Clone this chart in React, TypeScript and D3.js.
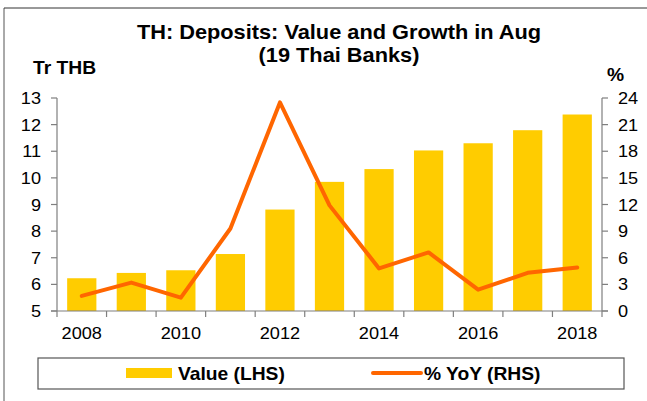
import React, { useRef, useEffect } from "react";
import * as d3 from "d3";

const years = ["2008", "2009", "2010", "2011", "2012", "2013", "2014", "2015", "2016", "2017", "2018"];
const depositValue = [6.23, 6.43, 6.53, 7.14, 8.81, 9.85, 10.33, 11.03, 11.3, 11.79, 12.38];
const yoyGrowth = [1.7, 3.2, 1.5, 9.3, 23.5, 11.9, 4.8, 6.6, 2.4, 4.3, 4.9];
const leftTicks = [5, 6, 7, 8, 9, 10, 11, 12, 13];
const rightTicks = [0, 3, 6, 9, 12, 15, 18, 21, 24];
const yearLabels = ["2008", "2010", "2012", "2014", "2016", "2018"];

const W = 647;
const H = 401;
const STRETCH = 1.1; // source image is a bit wide, stretch text to match

export default function App() {
  const ref = useRef<SVGSVGElement | null>(null);

  useEffect(() => {
    const m = { top: 98, right: 45, bottom: 90, left: 57 };
    const svg = d3.select(ref.current);
    svg.selectAll("*").remove();
    svg.attr("width", W).attr("height", H).style("background", "#fff");

    const font = "Liberation Sans, Arial, sans-serif";
    const axisColor = "#7f7f7f";

    const text = (x: number, y: number, s: string, size: number, bold = false, anchor = "start") =>
      svg
        .append("text")
        .attr("transform", `translate(${x},${y}) scale(${STRETCH},1)`)
        .attr("text-anchor", anchor)
        .attr("font-family", font)
        .attr("font-size", size)
        .attr("font-weight", bold ? "bold" : "normal")
        .attr("fill", "#000")
        .text(s);

    // outer frame (left + top edges visible)
    svg.append("line").attr("x1", 4).attr("x2", 4).attr("y1", 8).attr("y2", H).attr("stroke", "#555");
    svg.append("line").attr("x1", 4).attr("x2", W).attr("y1", 8).attr("y2", 8).attr("stroke", "#333");

    const x = d3
      .scaleBand()
      .domain(years)
      .range([m.left, W - m.right])
      .paddingInner(0.41)
      .paddingOuter(0.205);

    const yL = d3.scaleLinear().domain([5, 13]).range([H - m.bottom, m.top]);
    const yR = d3.scaleLinear().domain([0, 24]).range([H - m.bottom, m.top]);
    const step = x.step();
    const x0 = m.left;
    const cx = (d: string) => x(d)! + x.bandwidth() / 2;

    // bars
    svg
      .append("g")
      .selectAll("rect")
      .data(years)
      .join("rect")
      .attr("x", (d) => x(d)!)
      .attr("y", (d, i) => yL(depositValue[i]))
      .attr("width", x.bandwidth())
      .attr("height", (d, i) => yL(5) - yL(depositValue[i]))
      .attr("fill", "#ffcc00");

    // line
    const line = d3
      .line<number>()
      .x((d, i) => cx(years[i]))
      .y((d) => yR(d));
    svg
      .append("path")
      .datum(yoyGrowth)
      .attr("d", line)
      .attr("fill", "none")
      .attr("stroke", "#ff6600")
      .attr("stroke-width", 4)
      .attr("stroke-linecap", "round")
      .attr("stroke-linejoin", "round");

    // axes
    const base = yL(5);
    const xr = W - m.right;
    const g = svg.append("g").attr("stroke", axisColor).attr("stroke-width", 1.2);
    g.append("line").attr("x1", x0).attr("x2", x0).attr("y1", m.top).attr("y2", base + 6);
    g.append("line").attr("x1", xr).attr("x2", xr).attr("y1", m.top).attr("y2", base + 6);
    g.append("line").attr("x1", x0 - 6).attr("x2", xr + 6).attr("y1", base).attr("y2", base);
    leftTicks.forEach((t) => {
      g.append("line").attr("x1", x0 - 6).attr("x2", x0).attr("y1", yL(t)).attr("y2", yL(t));
      text(x0 - 16, yL(t) + 6, String(t), 16.5, false, "end");
    });
    rightTicks.forEach((t) => {
      g.append("line").attr("x1", xr).attr("x2", xr + 6).attr("y1", yR(t)).attr("y2", yR(t));
      text(xr + 16, yR(t) + 6, String(t), 16.5);
    });
    d3.range(1, years.length).forEach((i) => {
      g.append("line").attr("x1", x0 + step * i).attr("x2", x0 + step * i).attr("y1", base).attr("y2", base + 6);
    });
    yearLabels.forEach((yr) => text(cx(yr), base + 28, yr, 16.5, false, "middle"));

    // titles
    text(339, 39, "TH: Deposits: Value and Growth in Aug", 19.8, true, "middle");
    text(339, 62, "(19 Thai Banks)", 19.8, true, "middle");
    text(33, 74, "Tr THB", 17.5, true);
    text(607, 81, "%", 17.5, true);

    // legend
    svg.append("rect").attr("x", 38).attr("y", 358).attr("width", 586).attr("height", 31)
      .attr("fill", "#fff").attr("stroke", "#555").attr("stroke-width", 1.2);
    svg.append("rect").attr("x", 126).attr("y", 368).attr("width", 46).attr("height", 10).attr("fill", "#ffcc00");
    text(178, 380, "Value (LHS)", 17.5, true);
    svg.append("line").attr("x1", 373).attr("x2", 421).attr("y1", 373).attr("y2", 373)
      .attr("stroke", "#ff6600").attr("stroke-width", 4).attr("stroke-linecap", "round");
    text(424, 380, "% YoY (RHS)", 17.5, true);
  }, []);

  return (
    <div style={{ position: "absolute", left: 0, top: 0 }}>
      <svg ref={ref}></svg>
    </div>
  );
}
